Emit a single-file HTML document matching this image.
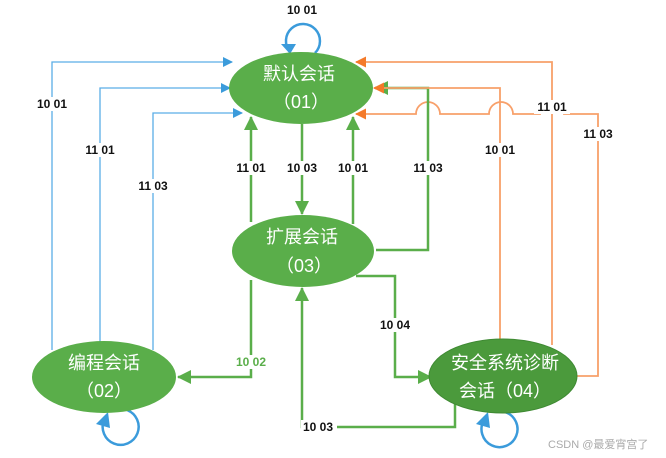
<!DOCTYPE html>
<html><head><meta charset="utf-8"><style>
html,body{margin:0;padding:0;background:#fff;}
svg{display:block;}
text{font-family:"Liberation Sans","Noto Sans CJK SC",sans-serif;}
.l{font-size:12px;font-weight:bold;fill:#111;text-anchor:middle;}
.n{font-size:18px;fill:#fff;text-anchor:middle;}
</style></head><body>
<svg width="666" height="458" viewBox="0 0 666 458" xmlns="http://www.w3.org/2000/svg">
<defs>
<marker id="ab" markerWidth="10" markerHeight="10" refX="9" refY="5" orient="auto" markerUnits="userSpaceOnUse"><path d="M0,0 L10,5 L0,10 Z" fill="#3b9bdb"/></marker>
<marker id="ag" markerWidth="14" markerHeight="14" refX="13" refY="7" orient="auto" markerUnits="userSpaceOnUse"><path d="M0,0 L14,7 L0,14 Z" fill="#5aae4a"/></marker>
<marker id="ao" markerWidth="11" markerHeight="11" refX="10" refY="5.5" orient="auto" markerUnits="userSpaceOnUse"><path d="M0,0 L11,5.5 L0,11 Z" fill="#f47a2a"/></marker>
</defs>
<g fill="none" stroke-width="1.3">
<path d="M52,350 V62 H232" stroke="#5aaee6" marker-end="url(#ab)"/>
<path d="M100,345 V88 H230" stroke="#5aaee6" marker-end="url(#ab)"/>
<path d="M153,350 V113 H242" stroke="#5aaee6" marker-end="url(#ab)"/>
<path d="M552,345 V62 H356" stroke="#f8a06a" stroke-width="1.8" marker-end="url(#ao)"/>
<path d="M577,376 H598 V114 H564 A12,12 0 0 0 540,114 H513 A12,12 0 0 0 489,114 H440 A12,12 0 0 0 416,114 H356" stroke="#f8a06a" stroke-width="1.8" marker-end="url(#ao)"/>
</g>
<g fill="none" stroke="#5aae4a" stroke-width="2.5">
<path d="M251,222 V117" marker-end="url(#ag)"/>
<path d="M302,124 V214" marker-end="url(#ag)"/>
<path d="M353,224 V117" marker-end="url(#ag)"/>
<path d="M376,250 H428 V88 H375" marker-end="url(#ag)"/>
<path d="M251,280 V377 H178" marker-end="url(#ag)"/>
<path d="M356,276 H395 V377 H431" marker-end="url(#ag)"/>
<path d="M455,402 V427 H302 V288" marker-end="url(#ag)"/>
</g>
<path d="M500,340 V88 H374" fill="none" stroke="#f8a06a" stroke-width="1.8" marker-end="url(#ao)"/>
<g fill="none" stroke="#3b9bdb" stroke-width="2.5">
<path d="M290,52 A17,17 0 1 1 315,53" />
<path d="M127,410 A18,18 0 1 1 104,420"/>
<path d="M505,412 A18,18 0 1 1 484,420"/>
</g>
<path d="M281,44 L296,44 L290,54 Z" fill="#3b9bdb"/>
<path d="M96,424 L108,412 L110,428 Z" fill="#3b9bdb"/>
<path d="M476,424 L488,412 L490,428 Z" fill="#3b9bdb"/>
<ellipse cx="301" cy="88" rx="72" ry="36" fill="#5aae4a"/>
<ellipse cx="303" cy="251" rx="71" ry="36" fill="#5aae4a"/>
<ellipse cx="104" cy="377" rx="72" ry="36" fill="#5aae4a"/>
<ellipse cx="503" cy="376" rx="74" ry="37" fill="#4b9a3c" stroke="#3f8a33" stroke-width="1"/>
<text class="n" x="299" y="80">默认会话</text><text class="n" x="301" y="108">（01）</text>
<text class="n" x="302" y="243">扩展会话</text><text class="n" x="304" y="272">（03）</text>
<text class="n" x="104" y="369">编程会话</text><text class="n" x="104" y="397">（02）</text>
<text class="n" x="505" y="369">安全系统诊断</text><text class="n" x="505" y="397">会话（04）</text>
<g>
<rect x="34" y="97" width="36" height="14" fill="#fff"/><text class="l" x="52" y="108">10 01</text>
<rect x="82" y="143" width="36" height="14" fill="#fff"/><text class="l" x="100" y="154">11 01</text>
<rect x="135" y="179" width="36" height="14" fill="#fff"/><text class="l" x="153" y="190">11 03</text>
<text class="l" x="302" y="14">10 01</text>
<rect x="233" y="161" width="36" height="14" fill="#fff"/><text class="l" x="251" y="172">11 01</text>
<rect x="284" y="161" width="36" height="14" fill="#fff"/><text class="l" x="302" y="172">10 03</text>
<rect x="335" y="161" width="36" height="14" fill="#fff"/><text class="l" x="353" y="172">10 01</text>
<rect x="410" y="161" width="36" height="14" fill="#fff"/><text class="l" x="428" y="172">11 03</text>
<rect x="482" y="143" width="36" height="14" fill="#fff"/><text class="l" x="500" y="154">10 01</text>
<rect x="534" y="100" width="36" height="14" fill="#fff"/><text class="l" x="552" y="111">11 01</text>
<rect x="580" y="127" width="36" height="14" fill="#fff"/><text class="l" x="598" y="138">11 03</text>
<rect x="233" y="355" width="36" height="14" fill="#fff"/><text class="l" x="251" y="366" style="fill:#5aae4a">10 02</text>
<rect x="377" y="318" width="36" height="14" fill="#fff"/><text class="l" x="395" y="329">10 04</text>
<rect x="301" y="420" width="36" height="14" fill="#fff"/><text class="l" x="318" y="431">10 03</text>
</g>
<text x="548" y="448" style="font-size:11px;fill:#aaa">CSDN @最爱宵宫了</text>
</svg>
</body></html>
